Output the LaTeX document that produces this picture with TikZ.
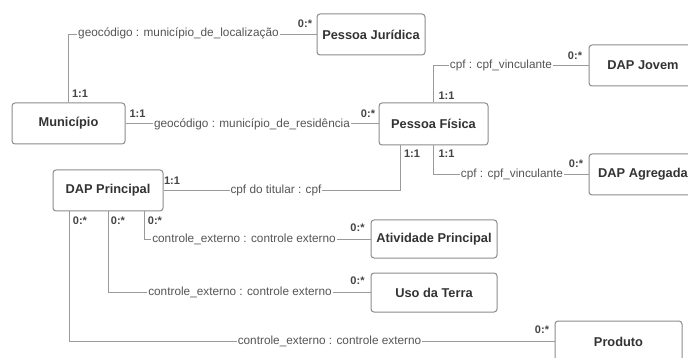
\documentclass[tikz,border=0pt]{standalone}
\usepackage{fontspec}
\setmainfont{Liberation Sans}
\usetikzlibrary{calc}
\definecolor{linec}{HTML}{9A9A9A}
\definecolor{boxc}{HTML}{8C8C8C}
\definecolor{txtc}{HTML}{333333}
\definecolor{lblc}{HTML}{555555}
\definecolor{multc}{HTML}{444444}
\begin{document}
\begin{tikzpicture}[x=1pt,y=-1pt,
  entity/.style={draw=boxc, line width=1pt, rounded corners=3pt, fill=white,
    font=\fontsize{12.8}{14}\selectfont\bfseries, text=txtc, inner sep=0pt},
  conn/.style={draw=linec, line width=0.9pt},
  elabel/.style={fill=white, inner sep=1pt, font=\fontsize{11.8}{13}\selectfont, text=lblc},
  mult/.style={inner sep=0pt, font=\fontsize{11}{12}\selectfont\bfseries, text=multc}]
\useasboundingbox (0,0) rectangle (688,358);
\clip (0,0) rectangle (688,358);
\fill[white] (0,0) rectangle (688,358);

% entities
\node[entity, minimum width=108pt, minimum height=41pt] (pj)   at (371,34.5)  {Pessoa Jurídica};
\node[entity, minimum width=113pt, minimum height=41pt] (mun)  at (68.5,123.5) {Município};
\node[entity, minimum width=109pt, minimum height=42pt] (pf)   at (433.5,124) {Pessoa Física};
\node[entity, minimum width=108pt, minimum height=41pt] (dapj) at (643,65.5)  {DAP Jovem};
\node[entity, minimum width=108pt, minimum height=41pt] (dapa) at (643,174.5) {DAP Agregada};
\node[entity, minimum width=110pt, minimum height=41pt] (dapp) at (108,190.5) {DAP Principal};
\node[entity, minimum width=126pt, minimum height=38pt] (ap)   at (434,239)   {Atividade Principal};
\node[entity, minimum width=126pt, minimum height=39pt] (ut)   at (434,292.5) {Uso da Terra};
\node[entity, minimum width=127pt, minimum height=41pt] (prod) at (618.5,341.5) {Produto};

% connector start points
\coordinate (pfb1) at ($(pf.south west)+(22,0)$);
\coordinate (dpb1) at ($(dapp.south west)+(17,0)$);
\coordinate (dpb3) at ($(dapp.south west)+(92,0)$);

% connectors
\draw[conn] (mun.north) |- (pj.west);
\draw[conn] (mun.east) -- (mun.east -| pf.west);
\draw[conn] (pf.north) |- (dapj.west);
\draw[conn] (pf.south) |- (dapa.west);
\draw[conn] (pfb1) |- (dapp.east);
\draw[conn] (dpb3) |- (ap.west);
\draw[conn] (dapp.south) |- (ut.west);
\draw[conn] (dpb1) |- (prod.west);

% edge labels
\node[elabel] (l1) at (178.5,33)  {geocódigo : município\_de\_localização};
\node[elabel] (l2) at (252,124)   {geocódigo : município\_de\_residência};
\node[elabel] (l3) at (501,65.5)  {cpf : cpf\_vinculante};
\node[elabel] (l4) at (512,174.5) {cpf : cpf\_vinculante};
\node[elabel] (l5) at (276,190.5) {cpf do titular : cpf};
\node[elabel] (l6) at (244,239)   {controle\_externo : controle externo};
\node[elabel] (l7) at (240,292.5) {controle\_externo : controle externo};
\node[elabel] (l8) at (329.5,341.5) {controle\_externo : controle externo};

% multiplicities
\node[mult] (m1)  at (80,94)     {1:1};
\node[mult] (m2)  at (305,24)    {0:*};
\node[mult] (m3)  at (137.5,114) {1:1};
\node[mult] (m4)  at (368,114)   {0:*};
\node[mult] (m5)  at (446.5,96)  {1:1};
\node[mult] (m6)  at (575,56)    {0:*};
\node[mult] (m7)  at (412,154)   {1:1};
\node[mult] (m8)  at (446.5,154) {1:1};
\node[mult] (m9)  at (576,164)   {0:*};
\node[mult] (m10) at (172,181)   {1:1};
\node[mult] (m11) at (80,221)    {0:*};
\node[mult] (m12) at (118,221)   {0:*};
\node[mult] (m13) at (155,221)   {0:*};
\node[mult] (m14) at (357.5,228) {0:*};
\node[mult] (m15) at (357.5,281) {0:*};
\node[mult] (m16) at (542,330)   {0:*};
\end{tikzpicture}
\end{document}
